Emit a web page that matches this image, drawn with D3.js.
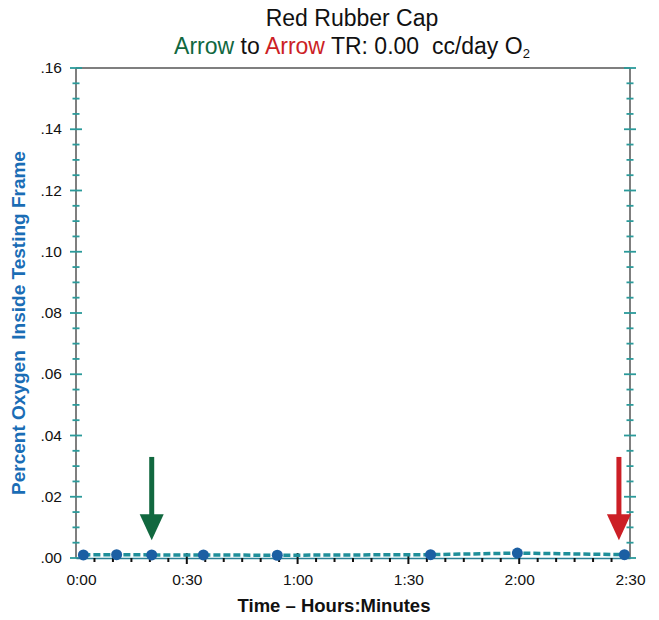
<!DOCTYPE html>
<html>
<head>
<meta charset="utf-8">
<script src="https://cdn.jsdelivr.net/npm/d3@7"></script>
<style>
  body { margin: 0; background: #fff; }
  svg { font-family: "Liberation Sans", Arial, sans-serif; }
  text { white-space: pre; }
</style>
</head>
<body>
<script>
// readings (minutes, percent O2)
const times = [2, 11, 20.5, 34.5, 54.5, 96, 119.5, 148.5];
const values = [0.0010, 0.0011, 0.0010, 0.0010, 0.0009, 0.0011, 0.0016, 0.0011];
const xTicks = [0, 30, 60, 90, 120, 150];
const xTickLabels = ["0:00", "0:30", "1:00", "1:30", "2:00", "2:30"];
const yTicks = [0, 0.02, 0.04, 0.06, 0.08, 0.10, 0.12, 0.14, 0.16];
const yTickLabels = [".00", ".02", ".04", ".06", ".08", ".10", ".12", ".14", ".16"];
const arrowTimes = [20.5, 147];
const arrowColors = ["#11683f", "#cc1f26"];
const arrowTop = 0.033, arrowTip = 0.0058;

const W = 659, H = 620;
const m = {left: 76, right: 29, top: 68, bottom: 62};

const svg = d3.select("body").append("svg").attr("width", W).attr("height", H);

const xScale = d3.scaleLinear().domain([0, 150]).range([m.left, W - m.right]);
const yScale = d3.scaleLinear().domain([0, 0.16]).range([H - m.bottom, m.top]);

// title
svg.append("text").attr("x", 352).attr("y", 26).attr("text-anchor", "middle")
  .attr("font-size", 23).attr("fill", "#111").text("Red Rubber Cap");
const t2 = svg.append("text").attr("x", 352).attr("y", 54).attr("text-anchor", "middle")
  .attr("font-size", 23).attr("fill", "#111");
t2.append("tspan").attr("fill", arrowColors[0]).text("Arrow");
t2.append("tspan").text(" to ");
t2.append("tspan").attr("fill", arrowColors[1]).text("Arrow");
t2.append("tspan").text(" TR: 0.00  cc/day O");
t2.append("tspan").attr("font-size", 13).attr("dy", 4).text("2");

// frame: top line
svg.append("line")
  .attr("x1", xScale(0)).attr("x2", xScale(150))
  .attr("y1", yScale(0.16)).attr("y2", yScale(0.16))
  .attr("stroke", "#555").attr("stroke-width", 1.5);

// y axes, teal ticks crossing the line
const yMinor = d3.range(0, 0.1601, 0.005);
const isMajor = d => Math.abs(d / 0.02 - Math.round(d / 0.02)) < 1e-6;
[xScale(0), xScale(150)].forEach(x => {
  const g = svg.append("g");
  g.append("line").attr("x1", x).attr("x2", x)
    .attr("y1", yScale(0)).attr("y2", yScale(0.16))
    .attr("stroke", "#555").attr("stroke-width", 1.5);
  g.selectAll(".tk").data(yMinor).enter().append("line")
    .attr("x1", d => x - (isMajor(d) ? 6 : 3.5))
    .attr("x2", d => x + (isMajor(d) ? 6 : 3.5))
    .attr("y1", d => yScale(d)).attr("y2", d => yScale(d))
    .attr("stroke", "#2a9a9a").attr("stroke-width", 1.8);
});

// y tick labels
svg.append("g").selectAll("text").data(yTicks).enter().append("text")
  .attr("x", 62).attr("y", d => yScale(d) + 5)
  .attr("text-anchor", "end").attr("font-size", 15.5).attr("fill", "#111")
  .text((d, i) => yTickLabels[i]);

// x axis
const xAxis = d3.axisBottom(xScale).tickValues(xTicks).tickSize(0).tickFormat((d, i) => xTickLabels[i]);
const gx = svg.append("g").attr("transform", "translate(0," + yScale(0) + ")").call(xAxis);
gx.select(".domain").attr("stroke", "#2a7f95").attr("stroke-width", 1.5);
gx.selectAll("text").attr("font-size", 15.5).attr("dy", "1.55em").attr("fill", "#111")
  .attr("font-family", "Liberation Sans, Arial, sans-serif");
gx.selectAll(".tick").filter(d => d === 0).select("text").attr("dx", 5);
const xMinor = d3.range(5, 150, 5);
svg.append("g").selectAll("line").data(xMinor).enter().append("line")
  .attr("x1", d => xScale(d)).attr("x2", d => xScale(d))
  .attr("y1", d => yScale(0) - (d % 30 === 0 ? 5 : 0))
  .attr("y2", d => yScale(0) + (d % 30 === 0 ? 6 : 4))
  .attr("stroke", "#111").attr("stroke-width", 2);

// dashed line through readings
const pts = times.map((t, i) => [t, values[i]]);
svg.append("path").datum(pts)
  .attr("d", d3.line().x(d => xScale(d[0])).y(d => yScale(d[1])))
  .attr("fill", "none").attr("stroke", "#1f8f9a").attr("stroke-width", 3.5)
  .attr("stroke-dasharray", "7,3");

// points
svg.append("g").selectAll("circle").data(pts).enter().append("circle")
  .attr("cx", d => xScale(d[0])).attr("cy", d => yScale(d[1]))
  .attr("r", 5.5).attr("fill", "#1b5fa3");

// arrows
arrowTimes.forEach((t, i) => {
  const x = xScale(t), y0 = yScale(arrowTop), y1 = yScale(arrowTip);
  svg.append("line").attr("x1", x).attr("x2", x).attr("y1", y0).attr("y2", y1 - 22)
    .attr("stroke", arrowColors[i]).attr("stroke-width", 5);
  svg.append("path")
    .attr("d", `M${x - 12},${y1 - 26} L${x + 12},${y1 - 26} L${x},${y1} Z`)
    .attr("fill", arrowColors[i]);
});

// axis titles
svg.append("text").attr("x", 334).attr("y", 612).attr("text-anchor", "middle")
  .attr("font-size", 18.5).attr("font-weight", "bold").attr("fill", "#111")
  .text("Time \u2013 Hours:Minutes");
svg.append("text")
  .attr("transform", "translate(25,323) rotate(-90)")
  .attr("text-anchor", "middle").attr("font-size", 19).attr("font-weight", "bold")
  .attr("fill", "#1a6db5")
  .text("Percent Oxygen  Inside Testing Frame");
</script>
</body>
</html>
